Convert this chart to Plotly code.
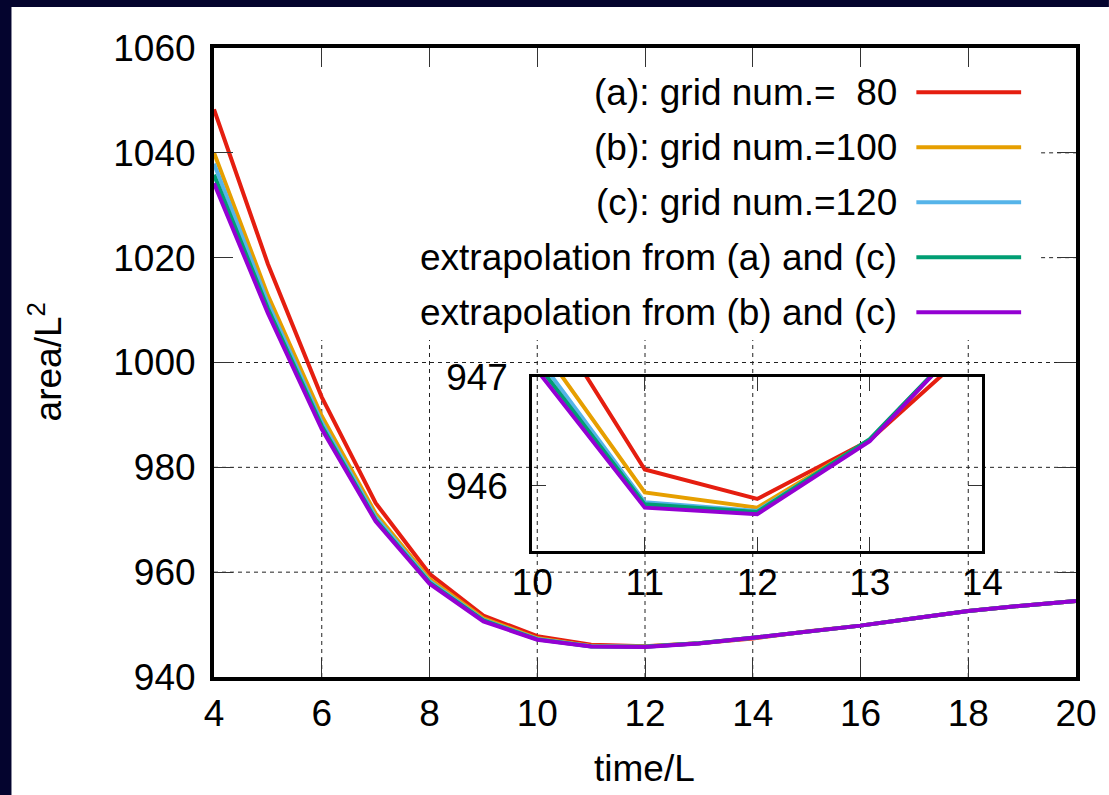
import plotly.graph_objects as go

# ---------------- data ----------------
time_L = [4, 5, 6, 7, 8, 9, 10, 11, 12, 13, 14, 15, 16, 17, 18, 19, 20]
grid_80 = [1048.3, 1018.8, 993.4, 973.2, 959.7, 951.7, 947.8, 946.15, 945.88, 946.42,
           947.35, 948.7, 949.8, 951.2, 952.6, 953.6, 954.5]
grid_100 = [1040.0, 1012.8, 989.8, 971.2, 958.7, 951.2, 947.39, 945.94, 945.80, 946.42,
            947.5, 948.7, 949.8, 951.2, 952.6, 953.6, 954.5]
grid_120 = [1037.9, 1011.4, 988.6, 970.5, 958.3, 950.9, 947.25, 945.85, 945.77, 946.42,
            947.5, 948.7, 949.8, 951.2, 952.6, 953.6, 954.5]
extrap_ac = [1035.8, 1010.3, 987.9, 970.0, 958.0, 950.8, 947.18, 945.83, 945.76, 946.43,
             947.5, 948.7, 949.8, 951.2, 952.6, 953.6, 954.5]
extrap_bc = [1034.2, 1009.4, 987.3, 969.7, 957.8, 950.6, 947.12, 945.80, 945.74, 946.41,
             947.5, 948.7, 949.8, 951.2, 952.6, 953.6, 954.5]

series_names = ["(a): grid num.=\u00a0\u00a080", "(b): grid num.=100", "(c): grid num.=120",
                "extrapolation from (a) and (c)", "extrapolation from (b) and (c)"]
series_values = [grid_80, grid_100, grid_120, extrap_ac, extrap_bc]
series_colors = ["#e51e10", "#e69f00", "#56b4e9", "#009e73", "#9400d3"]

x_ticks = [4, 6, 8, 10, 12, 14, 16, 18, 20]
y_ticks = [940, 960, 980, 1000, 1020, 1040, 1060]
inset_x_ticks = [10, 11, 12, 13, 14]
inset_y_ticks = [946, 947]

# ---------------- layout geometry ----------------
W, H = 1109, 795
L, R, T, B = 214, 1078, 48, 677
PW, PH = R - L, B - T


def px(xp):
    return (xp - L) / PW


def py(yp):
    return (B - yp) / PH


FONT = "Liberation Sans, Arial, sans-serif"
FS = 37

fig = go.Figure()

for name, vals, col in zip(series_names, series_values, series_colors):
    fig.add_trace(go.Scatter(x=time_L, y=vals, mode="lines", name=name,
                             line=dict(color=col, width=4), showlegend=False,
                             xaxis="x", yaxis="y"))
for name, vals, col in zip(series_names, series_values, series_colors):
    fig.add_trace(go.Scatter(x=time_L, y=vals, mode="lines", name=name,
                             line=dict(color=col, width=4), showlegend=False,
                             xaxis="x2", yaxis="y2"))

shapes = []
grid_style = dict(color="#222222", width=1, dash="4px,4px")
# main grid (partly hidden behind the key area in the original)
grid_top = 940 + (B - 340) / (PH / 120)
for xv in x_ticks[1:-1]:
    shapes.append(dict(type="line", xref="x", yref="y", x0=xv, x1=xv, y0=940, y1=grid_top,
                       line=grid_style, layer="below"))
for yv in [960, 980, 1000]:
    shapes.append(dict(type="line", xref="x", yref="y", x0=4, x1=20, y0=yv, y1=yv,
                       line=grid_style, layer="below"))
x_stub = 4 + (1043 - L) / (PW / 16)
for yv in [1020, 1040]:
    shapes.append(dict(type="line", xref="x", yref="y", x0=x_stub, x1=20, y0=yv, y1=yv,
                       line=grid_style, layer="below"))

# key samples
rows_y = [92.3, 147.3, 202.3, 257.3, 312.3]
for ry, col in zip(rows_y, series_colors):
    shapes.append(dict(type="line", xref="paper", yref="paper", x0=px(918), x1=px(1023),
                       y0=py(ry), y1=py(ry), line=dict(color=col, width=4), layer="above"))

# slide background bands
NAVY = "#04042e"
shapes.append(dict(type="rect", xref="paper", yref="paper", x0=px(-2), x1=px(11),
                   y0=py(H + 2), y1=py(-2), fillcolor=NAVY, line=dict(width=0), layer="above"))
shapes.append(dict(type="rect", xref="paper", yref="paper", x0=px(-2), x1=px(W + 2),
                   y0=py(7), y1=py(-2), fillcolor=NAVY, line=dict(width=0), layer="above"))

annotations = []
for ry, name in zip(rows_y, series_names):
    annotations.append(dict(xref="paper", yref="paper", x=px(901), y=py(ry), text=name,
                            showarrow=False, xanchor="right", yanchor="middle",
                            font=dict(family=FONT, size=FS, color="black")))
annotations.append(dict(xref="paper", yref="paper", x=px(645), y=py(768), text="time/L",
                        showarrow=False, xanchor="center", yanchor="middle",
                        font=dict(family=FONT, size=FS, color="black")))
annotations.append(dict(xref="paper", yref="paper", x=px(45), y=py(362),
                        text="area/L<sup>2</sup>", textangle=-90,
                        showarrow=False, xanchor="center", yanchor="middle",
                        font=dict(family=FONT, size=FS, color="black")))

axis_common = dict(showgrid=False, zeroline=False, showline=True, linecolor="black",
                   ticks="inside", tickcolor="#333333", tickwidth=1,
                   tickfont=dict(family=FONT, size=FS, color="black"))

inset_x_dom = [px(533), px(984)]
inset_y_dom = [py(550.7), py(377)]

fig.update_layout(
    width=W, height=H,
    margin=dict(l=L, r=W - R, t=T, b=H - B),
    paper_bgcolor="white", plot_bgcolor="rgba(0,0,0,0)",
    xaxis=dict(range=[4, 20], tickvals=x_ticks, mirror="ticks", linewidth=4, ticklen=19,
               ticklabelstandoff=1, domain=[0, 1], anchor="y", **axis_common),
    yaxis=dict(range=[940, 1060], tickvals=y_ticks, mirror="ticks", linewidth=4, ticklen=19,
               ticklabelstandoff=7, domain=[0, 1], anchor="x", **axis_common),
    xaxis2=dict(range=[10, 14], tickvals=inset_x_ticks, mirror="ticks", linewidth=3,
                ticklen=14, ticklabelstandoff=-3, domain=inset_x_dom, anchor="y2",
                **axis_common),
    yaxis2=dict(range=[945.404, 947.001], tickvals=inset_y_ticks, mirror="ticks",
                linewidth=3, ticklen=14, ticklabelstandoff=14, domain=inset_y_dom,
                anchor="x2", **axis_common),
    shapes=shapes,
    annotations=annotations,
    showlegend=False,
)

fig.write_html("out.html",
               config={"displayModeBar": False},
               post_script="document.body.style.margin='0';"
                           "document.body.style.overflow='hidden';")
